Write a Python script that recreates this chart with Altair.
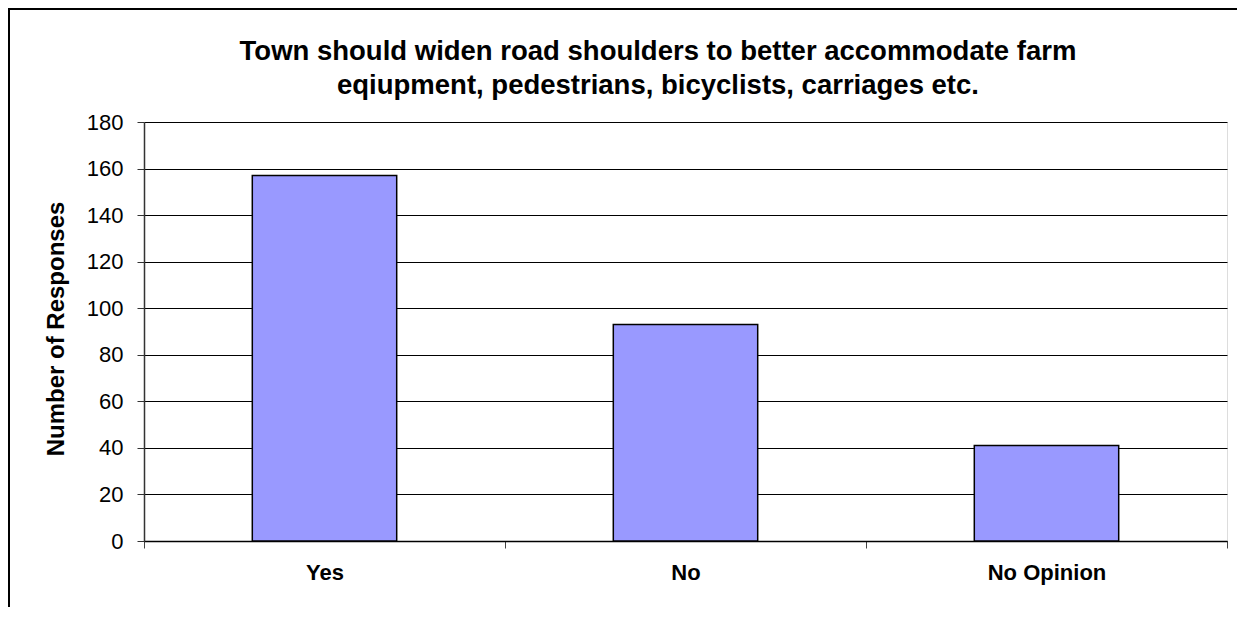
import altair as alt
import pandas as pd

categories = ["Yes", "No", "No Opinion"]
responses = [157, 93, 41]
y_ticks = [0, 20, 40, 60, 80, 100, 120, 140, 160, 180]
title_lines = [
    "Town should widen road shoulders to better accommodate farm",
    "eqiupment, pedestrians, bicyclists, carriages etc.",
]
y_title = "Number of Responses"

df = pd.DataFrame({"category": categories, "responses": responses})
one = pd.DataFrame({"k": [0]})

FONT = "Liberation Sans"
W, H = 1083, 419

x_enc = alt.X(
    "category:N",
    sort=categories,
    scale=alt.Scale(paddingInner=0, paddingOuter=0),
    axis=alt.Axis(
        title=None,
        labelAngle=0,
        labelFont=FONT,
        labelFontSize=22,
        labelFontWeight="bold",
        labelColor="black",
        labelPadding=14,
        tickBand="extent",
        tickSize=7,
        tickColor="#444444",
        tickWidth=1,
        domainColor="black",
        domainWidth=1.5,
        grid=False,
    ),
)

y_enc = alt.Y(
    "responses:Q",
    scale=alt.Scale(domain=[0, 180], nice=False),
    axis=alt.Axis(
        values=y_ticks,
        title=y_title,
        titleFont=FONT,
        titleFontSize=24,
        titleFontWeight="bold",
        titleColor="black",
        titleAngle=270,
        titleX=-88,
        titleY=H / 2 - 3,
        titleAlign="center",
        titleBaseline="middle",
        labelFont=FONT,
        labelFontSize=22,
        labelColor="black",
        labelPadding=14,
        tickSize=7,
        tickColor="#333333",
        domainColor="#333333",
        domainWidth=1.5,
        grid=True,
        gridColor="black",
        gridWidth=1,
    ),
)

bars = alt.Chart(df).mark_bar(
    color="#9999FF", stroke="black", strokeWidth=1.5,
    width=alt.RelativeBandSize(0.4),
).encode(x=x_enc, y=y_enc)

title_marks = [
    alt.Chart(one).mark_text(
        text=line, font=FONT, fontSize=27.5, fontWeight="bold", color="black",
        align="center", baseline="alphabetic",
    ).encode(x=alt.value(514), y=alt.value(yy))
    for line, yy in zip(title_lines, [-62, -28])
]

border_left = alt.Chart(one).mark_rule(color="black", strokeWidth=2).encode(
    x=alt.value(-135), y=alt.value(-114), y2=alt.value(H + 80)
)
border_top = alt.Chart(one).mark_rule(color="black", strokeWidth=2).encode(
    x=alt.value(-136), x2=alt.value(W + 30), y=alt.value(-113)
)

chart = (
    alt.layer(bars, *title_marks, border_left, border_top)
    .properties(
        width=W,
        height=H,
        autosize=alt.AutoSizeParams(type="none"),
        padding={"left": 136, "top": 114, "right": 10, "bottom": 66},
    )
    .configure_view(stroke="#888888", strokeWidth=2)
    .configure(background="white")
)

chart.save("out.html", embed_options={"renderer": "svg", "actions": False})
